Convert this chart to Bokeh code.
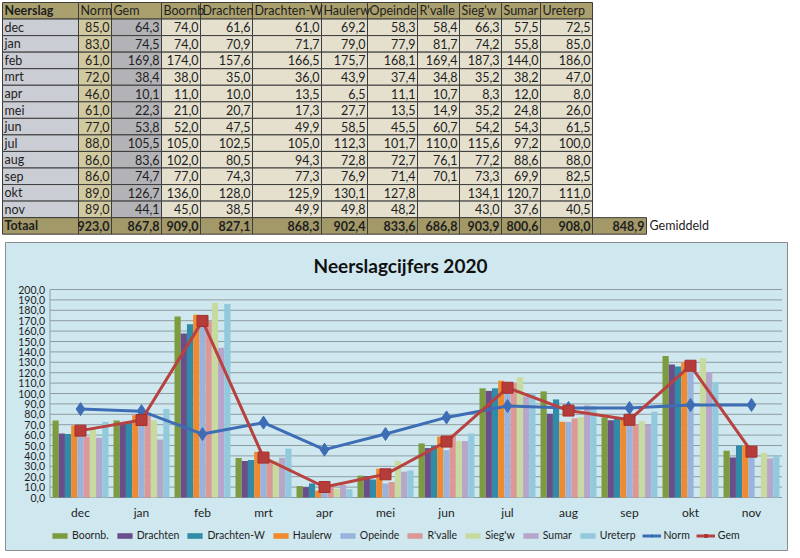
from bokeh.plotting import figure
from bokeh.models import ColumnDataSource, Range1d, Legend, LegendItem
from bokeh.transform import dodge
from bokeh.core.properties import value
from bokeh.embed import file_html
from bokeh.resources import INLINE

# ---------------- data ----------------
months = ["dec", "jan", "feb", "mrt", "apr", "mei", "jun", "jul", "aug", "sep", "okt", "nov"]
norm = [85.0, 83.0, 61.0, 72.0, 46.0, 61.0, 77.0, 88.0, 86.0, 86.0, 89.0, 89.0]
gem = [64.3, 74.5, 169.8, 38.4, 10.1, 22.3, 53.8, 105.5, 83.6, 74.7, 126.7, 44.1]
boornb = [74.0, 74.0, 174.0, 38.0, 11.0, 21.0, 52.0, 105.0, 102.0, 77.0, 136.0, 45.0]
drachten = [61.6, 70.9, 157.6, 35.0, 10.0, 20.7, 47.5, 102.5, 80.5, 74.3, 128.0, 38.5]
drachten_w = [61.0, 71.7, 166.5, 36.0, 13.5, 17.3, 49.9, 105.0, 94.3, 77.3, 125.9, 49.9]
haulerw = [69.2, 79.0, 175.7, 43.9, 6.5, 27.7, 58.5, 112.3, 72.8, 76.9, 130.1, 49.8]
opeinde = [58.3, 77.9, 168.1, 37.4, 11.1, 13.5, 45.5, 101.7, 72.7, 71.4, 127.8, 48.2]
rvalle = [58.4, 81.7, 169.4, 34.8, 10.7, 14.9, 60.7, 110.0, 76.1, 70.1, None, None]
siegw = [66.3, 74.2, 187.3, 35.2, 8.3, 35.2, 54.2, 115.6, 77.2, 73.3, 134.1, 43.0]
sumar = [57.5, 55.8, 144.0, 38.2, 12.0, 24.8, 54.3, 97.2, 88.6, 69.9, 120.7, 37.6]
ureterp = [72.5, 85.0, 186.0, 47.0, 8.0, 26.0, 61.5, 100.0, 88.0, 82.5, 111.0, 40.5]

totals = [923.0, 867.8, 909.0, 827.1, 868.3, 902.4, 833.6, 686.8, 903.9, 800.6, 908.0]
gemiddeld = 848.9

table_headers = ["Neerslag", "Norm", "Gem", "Boornb", "Drachten", "Drachten-W", "Haulerw",
                 "Opeinde", "R'valle", "Sieg'w", "Sumar", "Ureterp"]
series_names = ["Boornb.", "Drachten", "Drachten-W", "Haulerw", "Opeinde", "R'valle",
                "Sieg'w", "Sumar", "Ureterp"]
series_values = [boornb, drachten, drachten_w, haulerw, opeinde, rvalle, siegw, sumar, ureterp]
y_ticks = [0, 10, 20, 30, 40, 50, 60, 70, 80, 90, 100, 110, 120, 130, 140, 150, 160, 170,
           180, 190, 200]
chart_title = "Neerslagcijfers 2020"

# ---------------- styles ----------------
series_colors = ["#7d9b3f", "#6a4e8a", "#2f8ba8", "#f08a30", "#9ab3dc", "#dc9896",
                 "#c7dba0", "#b6a6cc", "#93c9dc"]
FONT = "Lato"
TXT = "#1e1e1e"
BG = "#cfe8ef"
GRID = "#8e9ca1"


def fmt(v):
    return "" if v is None else f"{v:.1f}".replace(".", ",")


W, H = 800, 558
p = figure(width=W, height=H, x_range=Range1d(0, W), y_range=Range1d(H, 0),
           output_backend="svg", toolbar_location=None,
           x_axis_location=None, y_axis_location=None, min_border=0)
p.grid.visible = False
p.outline_line_color = None
p.background_fill_color = "white"
p.border_fill_color = "white"

# chart scales: category index / precipitation value, mapped onto the page
cat0, cat_step = 80.0, 61.0            # page x of first category centre, category width
val0_y, px_per_unit = 497.0, 1.04      # page y of value 0, pixels per mm
p.extra_x_ranges = {"chart": Range1d(-cat0 / cat_step, (W - cat0) / cat_step)}
p.extra_y_ranges = {"chart": Range1d((val0_y - H) / px_per_unit, val0_y / px_per_unit)}
CH = dict(x_range_name="chart", y_range_name="chart")

# ---------------- chart box ----------------
p.quad(left=[5], right=[787], top=[242], bottom=[550], fill_color=BG, line_color="#8c8c8c",
       line_width=1)

# ---------------- table ----------------
col_edges = [2, 78, 111, 161, 200, 252, 321, 367, 417, 459, 501, 540, 592]
extra_edge = 646
row_top = 2
rh = 16.55

table_cols = [norm, gem] + series_values
col_fill = ["#cbcdd4", "#d1c9a0", "#b3b3b7"] + ["#e4e0cd"] * 9
header_fill = "#aaa06e"
total_fill = "#a39968"

cl, cr, ct, cb, cf = [], [], [], [], []
lt_x, lt_y, lt_t, lt_s = [], [], [], []
rt_x, rt_y, rt_t, rt_s = [], [], [], []
nrows = 2 + len(months)
for r in range(nrows):
    top = row_top + r * rh
    bot = top + rh
    yc = (top + bot) / 2
    for c in range(len(table_headers)):
        cl.append(col_edges[c]); cr.append(col_edges[c + 1]); ct.append(top); cb.append(bot)
        if r == 0:
            cf.append(header_fill)
        elif r == nrows - 1:
            cf.append(total_fill)
        else:
            cf.append(col_fill[c])
        if r == 0:
            lt_x.append(col_edges[c] + 2); lt_y.append(yc); lt_t.append(table_headers[c])
            lt_s.append("bold" if c == 0 else "normal")
        elif c == 0:
            lt_x.append(col_edges[c] + 2); lt_y.append(yc)
            lt_t.append(months[r - 1] if r < nrows - 1 else "Totaal")
            lt_s.append("normal" if r < nrows - 1 else "bold")
        else:
            v = table_cols[c - 1][r - 1] if r < nrows - 1 else totals[c - 1]
            rt_x.append(col_edges[c + 1] - 2); rt_y.append(yc); rt_t.append(fmt(v))
            rt_s.append("normal" if r < nrows - 1 else "bold")
gtop = row_top + (nrows - 1) * rh
cl.append(col_edges[-1]); cr.append(extra_edge); ct.append(gtop); cb.append(gtop + rh)
cf.append(total_fill)
rt_x.append(extra_edge - 2); rt_y.append(gtop + rh / 2); rt_t.append(fmt(gemiddeld)); rt_s.append("bold")

p.quad(left=cl, right=cr, top=ct, bottom=cb, fill_color=cf, line_color="#3c3c3c", line_width=1)
p.text(x=lt_x, y=lt_y, text=lt_t, text_font_style=lt_s, text_align="left", text_baseline="middle",
       text_font=value(FONT), text_font_size="12.5px", text_color=TXT)
p.text(x=rt_x, y=rt_y, text=rt_t, text_font_style=rt_s, text_align="right", text_baseline="middle",
       text_font=value(FONT), text_font_size="12.5px", text_color=TXT)
p.text(x=[extra_edge + 3], y=[gtop + rh / 2], text=["Gemiddeld"], text_align="left",
       text_baseline="middle", text_font=value(FONT), text_font_size="12.5px", text_color=TXT)

# ---------------- chart ----------------
xi = list(range(len(months)))
x_lo, x_hi = xi[0] - 0.5, xi[-1] + 0.5

# title
p.text(x=[400], y=[265], text=[chart_title], text_align="center", text_baseline="middle",
       text_font=value(FONT), text_font_size="19px", text_font_style="bold", text_color="#111111")

# horizontal gridlines + y-axis labels
p.segment(x0=[x_lo] * len(y_ticks), x1=[x_hi] * len(y_ticks), y0=y_ticks, y1=y_ticks,
          line_color=GRID, line_width=1, **CH)
p.segment(x0=[x_lo], x1=[x_lo], y0=[y_ticks[0]], y1=[y_ticks[-1]], line_color=GRID,
          line_width=1, **CH)
p.text(x=[x_lo] * len(y_ticks), y=y_ticks, text=[fmt(float(t)) for t in y_ticks],
       x_offset=-5, text_align="right", text_baseline="middle", text_font=value(FONT),
       text_font_size="10.5px", text_color=TXT, **CH)

# category labels
p.text(x=xi, y=[0] * len(xi), text=months, y_offset=15, text_align="center",
       text_baseline="middle", text_font=value(FONT), text_font_size="12px",
       text_color=TXT, **CH)

bw = 0.102
items = []
for i, (name, vals, color) in enumerate(zip(series_names, series_values, series_colors)):
    src = ColumnDataSource(dict(xi=xi, val=[float("nan") if v is None else v for v in vals]))
    rr = p.vbar(x=dodge("xi", (i - 4) * bw), top="val", bottom=0, width=bw, source=src,
                fill_color=color, line_color=None, **CH)
    items.append(LegendItem(label=name, renderers=[rr]))

lsrc = ColumnDataSource(dict(xi=xi, norm=norm, gem=gem))
nl = p.line(x="xi", y="norm", source=lsrc, line_color="#3d6db5", line_width=3, **CH)
nm = p.scatter(x="xi", y="norm", source=lsrc, marker="diamond", size=13,
               fill_color="#3d6db5", line_color="#3d6db5", **CH)
gl = p.line(x="xi", y="gem", source=lsrc, line_color="#b8423f", line_width=3, **CH)
gm = p.scatter(x="xi", y="gem", source=lsrc, marker="square", size=11,
               fill_color="#b53c38", line_color="#a5302c", **CH)
items.append(LegendItem(label="Norm", renderers=[nl, nm]))
items.append(LegendItem(label="Gem", renderers=[gl, gm]))

legend = Legend(items=items, orientation="horizontal", location=(50, 17),
                glyph_width=19, glyph_height=7, label_standoff=3, spacing=6,
                label_height=12, label_width=10,
                label_text_font=FONT, label_text_font_size="10.5px", label_text_color=TXT,
                background_fill_alpha=0, border_line_color=None, padding=0, margin=0)
p.add_layout(legend)

open("out.html", "w").write(file_html(p, INLINE))
